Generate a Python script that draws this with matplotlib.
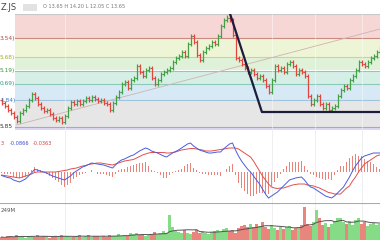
import numpy as np
import pandas as pd
import matplotlib
matplotlib.use("Agg")
import matplotlib.pyplot as plt
from matplotlib.patches import Rectangle
import matplotlib.transforms as mtransforms

# ---------------- data ----------------
close = [
    11.08, 10.96, 10.80, 10.68, 10.52, 10.36, 10.68, 10.80, 10.96, 11.20,
    11.44, 11.28, 11.04, 10.88, 10.76, 10.80, 10.64, 10.48, 10.40, 10.48,
    10.32, 10.56, 10.88, 11.12, 11.04, 11.16, 11.04, 11.16, 11.28, 11.20,
    11.32, 11.24, 11.16, 11.20, 11.08, 11.04, 10.80, 11.08, 11.32, 11.52,
    11.84, 11.92, 11.68, 12.00, 12.08, 12.56, 12.32, 12.16, 12.40, 12.48,
    12.08, 11.84, 12.00, 12.24, 12.32, 12.40, 12.48, 12.72, 12.88, 12.96,
    13.12, 12.96, 13.44, 13.76, 13.52, 13.00, 12.80, 13.12, 13.28, 13.36,
    13.52, 13.44, 13.76, 14.16, 14.40, 14.48, 14.40, 13.80, 12.88, 12.80,
    12.64, 12.48, 12.32, 12.40, 12.24, 12.08, 12.16, 12.00, 11.76, 11.52,
    12.00, 12.56, 12.40, 12.48, 12.32, 12.64, 12.72, 12.56, 12.24, 12.40,
    12.32, 12.16, 11.36, 11.04, 11.20, 11.36, 11.04, 10.88, 11.04, 10.80,
    10.88, 10.96, 11.36, 11.60, 11.76, 11.68, 12.00, 12.16, 12.40, 12.72,
    12.64, 12.56, 12.72, 12.88, 12.96, 13.12, 13.28]
open_ = [
    11.20, 11.08, 10.96, 10.80, 10.68, 10.52, 10.36, 10.68, 10.80, 10.96,
    11.20, 11.44, 11.28, 11.04, 10.88, 10.76, 10.80, 10.64, 10.48, 10.40,
    10.48, 10.32, 10.56, 10.88, 11.12, 11.04, 11.16, 11.04, 11.16, 11.28,
    11.20, 11.32, 11.24, 11.16, 11.20, 11.08, 11.04, 10.80, 11.08, 11.32,
    11.52, 11.84, 11.92, 11.68, 12.00, 12.08, 12.56, 12.32, 12.16, 12.40,
    12.48, 12.08, 11.84, 12.00, 12.24, 12.32, 12.40, 12.48, 12.72, 12.88,
    12.96, 13.12, 12.96, 13.44, 13.76, 13.52, 13.00, 12.80, 13.12, 13.28,
    13.36, 13.52, 13.44, 13.76, 14.16, 14.40, 14.48, 14.40, 13.80, 12.88,
    12.80, 12.64, 12.48, 12.32, 12.40, 12.24, 12.08, 12.16, 12.00, 11.76,
    11.52, 12.00, 12.56, 12.40, 12.48, 12.32, 12.64, 12.72, 12.56, 12.24,
    12.40, 12.32, 12.16, 11.36, 11.04, 11.20, 11.36, 11.04, 10.88, 11.04,
    10.80, 10.88, 10.96, 11.36, 11.60, 11.76, 11.68, 12.00, 12.16, 12.40,
    12.72, 12.64, 12.56, 12.72, 12.88, 12.96, 13.12]
high = [
    11.28, 11.16, 11.04, 10.88, 10.76, 10.60, 10.76, 10.88, 11.04, 11.28,
    11.52, 11.52, 11.36, 11.12, 10.96, 10.88, 10.88, 10.72, 10.56, 10.56,
    10.56, 10.64, 10.96, 11.20, 11.20, 11.24, 11.24, 11.24, 11.36, 11.36,
    11.40, 11.40, 11.32, 11.28, 11.28, 11.16, 11.12, 11.16, 11.40, 11.60,
    11.92, 12.00, 12.00, 12.08, 12.16, 12.64, 12.64, 12.40, 12.48, 12.56,
    12.56, 12.16, 12.08, 12.32, 12.40, 12.48, 12.56, 12.80, 12.96, 13.04,
    13.20, 13.20, 13.52, 13.84, 13.84, 13.60, 13.08, 13.20, 13.36, 13.44,
    13.60, 13.60, 13.84, 14.24, 14.48, 14.60, 14.56, 14.48, 13.88, 12.96,
    12.88, 12.72, 12.56, 12.48, 12.48, 12.32, 12.24, 12.24, 12.08, 11.84,
    12.08, 12.64, 12.64, 12.56, 12.56, 12.72, 12.80, 12.80, 12.64, 12.48,
    12.48, 12.40, 12.24, 11.44, 11.28, 11.44, 11.44, 11.12, 11.12, 11.12,
    10.96, 11.04, 11.44, 11.68, 11.84, 11.84, 12.08, 12.24, 12.48, 12.80,
    12.80, 12.72, 12.80, 12.96, 13.04, 13.20, 13.36]
low = [
    11.00, 10.88, 10.72, 10.60, 10.44, 10.28, 10.28, 10.60, 10.72, 10.88,
    11.12, 11.20, 10.96, 10.80, 10.68, 10.68, 10.56, 10.40, 10.32, 10.32,
    10.24, 10.24, 10.48, 10.80, 10.96, 10.96, 10.96, 10.96, 11.08, 11.12,
    11.12, 11.16, 11.08, 11.08, 11.00, 10.96, 10.72, 10.72, 11.00, 11.24,
    11.44, 11.76, 11.60, 11.60, 11.92, 12.00, 12.24, 12.08, 12.08, 12.32,
    12.00, 11.76, 11.76, 11.92, 12.16, 12.24, 12.32, 12.40, 12.64, 12.80,
    12.88, 12.88, 12.88, 13.36, 13.44, 12.92, 12.72, 12.72, 13.04, 13.20,
    13.28, 13.36, 13.36, 13.68, 14.08, 14.32, 14.32, 13.72, 12.80, 12.72,
    12.56, 12.40, 12.24, 12.24, 12.16, 12.00, 12.00, 11.92, 11.68, 11.44,
    11.44, 11.92, 12.32, 12.32, 12.24, 12.24, 12.56, 12.48, 12.16, 12.16,
    12.24, 12.08, 11.28, 10.96, 10.96, 11.12, 10.96, 10.80, 10.80, 10.72,
    10.72, 10.80, 10.88, 11.28, 11.52, 11.60, 11.60, 11.92, 12.08, 12.32,
    12.56, 12.48, 12.48, 12.64, 12.80, 12.88, 13.04]

macd = [
    -0.035, -0.045, -0.055, -0.06, -0.08, -0.09, -0.10, -0.085, -0.07, -0.04,
    -0.01, 0.025, 0.02, 0.01, 0.0, -0.01, -0.025, -0.04, -0.05, -0.06,
    -0.07, -0.08, -0.06, -0.04, -0.01, 0.01, 0.03, 0.05, 0.06, 0.075,
    0.09, 0.085, 0.08, 0.075, 0.07, 0.06, 0.05, 0.04, 0.07, 0.10,
    0.12, 0.13, 0.145, 0.16, 0.17, 0.19, 0.21, 0.225, 0.24, 0.23,
    0.21, 0.20, 0.19, 0.175, 0.16, 0.15, 0.17, 0.19, 0.205, 0.22,
    0.24, 0.26, 0.28, 0.29, 0.26, 0.24, 0.22, 0.21, 0.20, 0.19,
    0.19, 0.195, 0.20, 0.20, 0.23, 0.255, 0.28, 0.29, 0.22, 0.16,
    0.11, 0.07, 0.03, 0.0, -0.04, -0.08, -0.12, -0.17, -0.22, -0.26,
    -0.24, -0.22, -0.20, -0.17, -0.14, -0.11, -0.08, -0.07, -0.06, -0.055,
    -0.05, -0.08, -0.12, -0.15, -0.16, -0.18, -0.20, -0.22, -0.24, -0.25,
    -0.26, -0.24, -0.21, -0.18, -0.15, -0.10, -0.05, 0.01, 0.06, 0.10,
    0.14, 0.16, 0.17, 0.18, 0.19, 0.19, 0.19]
signal = [
    -0.03, -0.035, -0.04, -0.045, -0.05, -0.055, -0.06, -0.05, -0.04, -0.03,
    -0.02, -0.005, 0.0, 0.0, 0.0, 0.0, 0.0, 0.0, 0.0, 0.005,
    0.01, 0.015, 0.02, 0.03, 0.035, 0.04, 0.05, 0.06, 0.065, 0.075,
    0.08, 0.085, 0.09, 0.09, 0.085, 0.08, 0.075, 0.07, 0.08, 0.09,
    0.10, 0.11, 0.115, 0.12, 0.125, 0.14, 0.155, 0.17, 0.18, 0.19,
    0.195, 0.195, 0.195, 0.195, 0.195, 0.19, 0.19, 0.195, 0.20, 0.21,
    0.22, 0.225, 0.23, 0.235, 0.235, 0.23, 0.225, 0.22, 0.21, 0.21,
    0.21, 0.215, 0.22, 0.225, 0.23, 0.235, 0.24, 0.24, 0.24, 0.23,
    0.21, 0.19, 0.17, 0.15, 0.11, 0.06, 0.01, -0.04, -0.08, -0.12,
    -0.15, -0.16, -0.165, -0.16, -0.16, -0.15, -0.14, -0.13, -0.125, -0.12,
    -0.12, -0.12, -0.13, -0.135, -0.14, -0.15, -0.16, -0.175, -0.19, -0.205,
    -0.21, -0.22, -0.22, -0.22, -0.19, -0.16, -0.14, -0.09, -0.05, 0.0,
    0.04, 0.08, 0.10, 0.12, 0.14, 0.16, 0.17]

volume = [
    20, 15, 25, 30, 18, 35, 22, 28, 15, 30, 25, 20, 35, 18, 24, 30, 16, 22, 28, 20, 33,
    25, 30, 22, 18, 28, 35, 20, 26, 32, 18, 24, 30, 22, 27, 20, 36, 25, 30, 40, 28,
    35, 30, 45, 38, 50, 33, 40, 28, 36, 42, 55, 38, 45, 60, 50, 165, 90,
    60, 55, 45, 70, 50, 40, 55, 65, 45, 60, 50, 40, 55,
    60, 70, 55, 75, 80, 60, 70, 50, 80, 95,
    100, 85, 105, 90, 110, 95, 120, 85, 75, 100,
    80, 70, 90, 75, 85, 95, 70, 80, 90, 100,
    220, 110, 95, 120, 200, 150, 100, 115, 90, 110,
    130, 150, 145, 120, 110, 125, 100, 135, 150, 110, 120, 95, 105, 115, 100, 110]

fib_low, fib_high = 10.12, 14.64
fib_ratios = [0.0, 0.236, 0.382, 0.5, 0.618, 0.786, 1.0]
fib_labels = ["5.85", "1.84)", "0.69)", "5.19)", "5.68)", "3.54)", ""]
trend_x = [5, 126.2]
trend_y = [10.20, 14.04]
draw_x = [76.2, 86.8, 126.2]
draw_y = [14.64, 10.72, 10.72]

# ---------------- styles ----------------
band_colors = ["#e6e6e6", "#d7e9f4", "#d6efe6", "#dff2d9", "#eef5d7", "#f7d6d6"]
line_colors = ["#a9a3d9", "#9fc4de", "#8ccab6", "#94cc94", "#c5d68e", "#c98a80", "#c8c8c8"]
label_colors = ["#333333", "#3a78c0", "#2a9a8a", "#3a9a3a", "#a4b020", "#b04a3a", "#333333"]
UP, DOWN = "#43a047", "#e0463e"
VUP, VDOWN = "#86dc86", "#e8857c"

W, H = 380, 240
fig = plt.figure(figsize=(W / 100, H / 100), dpi=100)

def px_axes(top, bottom):
    return fig.add_axes([0, (H - bottom) / H, 1, (bottom - top) / H])

ax = px_axes(14, 130)
axm = px_axes(130, 203)
axv = px_axes(203, 240)

n = len(close)
x = np.arange(n)
o = np.array(open_); c = np.array(close); hi = np.array(high); lo = np.array(low)
up = c >= o
cols = np.where(up, UP, DOWN)
xlim = (-0.5, W / 3 - 0.5)
grid_x = [21.2, 90.2, 104.5, 120.2]

for a in (ax, axm, axv):
    a.set_xlim(*xlim)
    a.set_axis_off()

# ---- main panel ----
ax.set_ylim(10.0, fib_high)
x0 = 15 / W
lv = [fib_low + r * (fib_high - fib_low) for r in fib_ratios]
ax.axhspan(10.0, fib_low, xmin=x0, color="#dcd8f2", lw=0, zorder=0)
for i in range(len(lv) - 1):
    ax.axhspan(lv[i], lv[i + 1], xmin=x0, color=band_colors[i], lw=0, zorder=0)
for i, L in enumerate(lv):
    ax.axhline(L, xmin=x0, color=line_colors[i], lw=0.8, zorder=1)
for gx in grid_x:
    ax.axvline(gx, color="white", lw=0.6, alpha=0.5, zorder=1)

trans = mtransforms.blended_transform_factory(ax.transAxes, ax.transData)
for L, lab, col in zip(lv, fib_labels, label_colors):
    if lab:
        ax.text(0.0, L, lab, transform=trans, fontsize=4.2, color=col,
                ha="left", va="center", zorder=6)

ax.plot(trend_x, trend_y, color="#cfb2b2", lw=0.6, zorder=2)
ax.vlines(x, lo, hi, colors=cols, lw=0.9, zorder=3)
ax.hlines(o, x - 0.4, x, colors=cols, lw=0.8, zorder=3)
ax.hlines(c, x, x + 0.4, colors=cols, lw=0.8, zorder=3)
ax.plot(draw_x, draw_y, color="#1c1c3c", lw=1.6, zorder=4, solid_capstyle="round")

# ---- MACD panel ----
m = np.array(macd); s = np.array(signal)
hist = (m - s) * 1.6
axm.set_ylim(-0.31, 0.42)
for gx in grid_x:
    axm.axvline(gx, color="#ececec", lw=0.6, zorder=0)
axm.bar(x, hist, width=0.35, color="#e9837a", zorder=1)
axm.plot(x, s, color="#e0504a", lw=0.7, zorder=2)
axm.plot(x, m, color="#4a5ce0", lw=0.7, zorder=3)
axm.text(1 / W, 0.82, "3", transform=axm.transAxes, fontsize=3.6, color="#d04040", va="center")
axm.text(10 / W, 0.82, "-0.0866", transform=axm.transAxes, fontsize=3.6, color="#3a4ad0", va="center")
axm.text(33 / W, 0.82, "-0.0363", transform=axm.transAxes, fontsize=3.6, color="#d04040", va="center")

# ---- volume panel ----
v = np.array(volume, dtype=float)
axv.set_ylim(0, 249)
for gx in grid_x:
    axv.axvline(gx, color="#ececec", lw=0.6, zorder=0)
axv.bar(x, v, width=0.8, color=np.where(up, VUP, VDOWN), zorder=1)
ma = pd.Series(v).rolling(10, min_periods=1).mean()
axv.plot(x, ma, color="#555555", lw=0.7, zorder=2)
axv.text(1 / W, 0.8, "249M", transform=axv.transAxes, fontsize=4, color="#555555", va="center")
axv.axhline(249, color="#aaaaaa", lw=0.8)

# ---- header ----
fig.text(1 / W, 1 - 7 / H, "Z.JS", fontsize=6, color="#444444", va="center", ha="left")
fig.patches.append(Rectangle((23 / W, 1 - 11 / H), 14 / W, 7 / H,
                             transform=fig.transFigure, color="#e2e2e2", lw=0))
fig.text(43 / W, 1 - 7 / H, "O 13.65 H 14.20 L 12.05 C 13.65", fontsize=3.6,
         color="#777777", va="center", ha="left")

fig.savefig("out.png", dpi=100, facecolor="white")
